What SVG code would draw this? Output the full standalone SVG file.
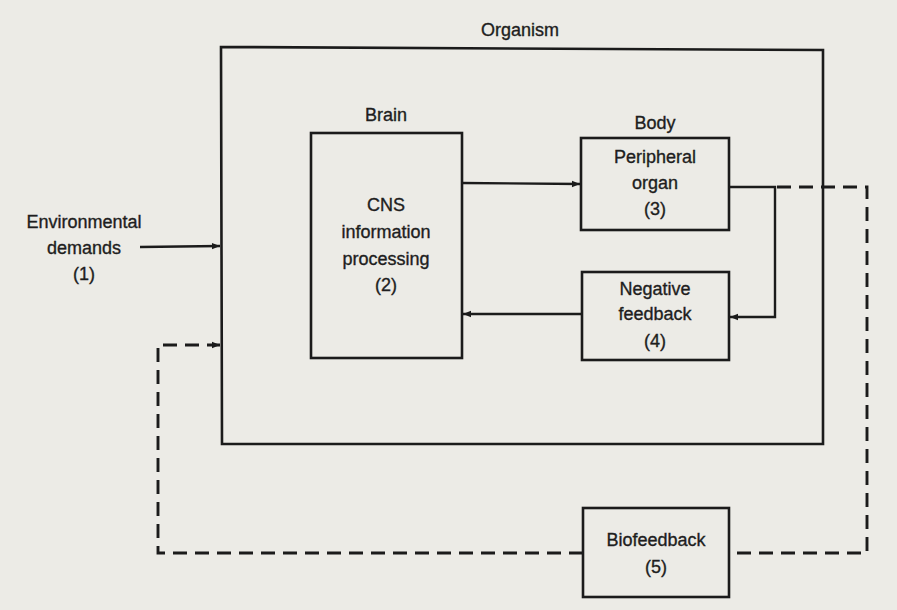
<svg xmlns="http://www.w3.org/2000/svg" width="897" height="610" viewBox="0 0 897 610">
  <defs>
    <marker id="arrow" viewBox="0 0 10 10" refX="10" refY="5" markerWidth="10" markerHeight="8" markerUnits="userSpaceOnUse" orient="auto">
      <path d="M0,1 L10,5 L0,9 Z" fill="#1b1b1b"/>
    </marker>
    <style>
      .box { fill: none; stroke: #1b1b1b; stroke-width: 2.6; }
      .link { fill: none; stroke: #1b1b1b; stroke-width: 2.4; }
      .dash { fill: none; stroke: #1b1b1b; stroke-width: 2.9; stroke-dasharray: 14 8; }
      text { font-family: "Liberation Sans", "DejaVu Sans", sans-serif; font-size: 18px; fill: #1e1e1e; stroke: #1e1e1e; stroke-width: 0.35; text-anchor: middle; }
    </style>
  </defs>

  <rect width="897" height="610" fill="#ecebe6"/>

  <!-- Organism container -->
  <g id="organism">
    <path class="box" d="M221,47 L823,50 L823,444 L222,444 Z"/>
    <text x="520" y="36">Organism</text>
  </g>

  <!-- Environmental demands (1) -->
  <g id="environment">
    <text x="84" y="228">Environmental</text>
    <text x="84" y="254">demands</text>
    <text x="84" y="280">(1)</text>
  </g>

  <!-- Brain: CNS information processing (2) -->
  <g id="brain">
    <text x="386" y="121">Brain</text>
    <rect class="box" x="311" y="133" width="151" height="225"/>
    <text x="386" y="211">CNS</text>
    <text x="386" y="238">information</text>
    <text x="386" y="265">processing</text>
    <text x="386" y="291">(2)</text>
  </g>

  <!-- Body: Peripheral organ (3) -->
  <g id="peripheral">
    <text x="655" y="129">Body</text>
    <rect class="box" x="581" y="138" width="148" height="92"/>
    <text x="655" y="163">Peripheral</text>
    <text x="655" y="189">organ</text>
    <text x="655" y="215">(3)</text>
  </g>

  <!-- Negative feedback (4) -->
  <g id="negative-feedback">
    <rect class="box" x="582" y="272" width="147" height="88"/>
    <text x="655" y="295">Negative</text>
    <text x="655" y="320">feedback</text>
    <text x="655" y="347">(4)</text>
  </g>

  <!-- Biofeedback (5) -->
  <g id="biofeedback">
    <rect class="box" x="583" y="508" width="146" height="89"/>
    <text x="656" y="546">Biofeedback</text>
    <text x="656" y="573">(5)</text>
  </g>

  <!-- Connectors -->
  <g id="connectors">
    <path class="link" d="M140,247 L220,246" marker-end="url(#arrow)"/>
    <path class="link" d="M462,183 L580,184" marker-end="url(#arrow)"/>
    <path class="link" d="M729,187 L775,187 L775,317 L730,317" marker-end="url(#arrow)"/>
    <path class="link" d="M582,314 L463,314" marker-end="url(#arrow)"/>
    <path class="dash" d="M777,187 L867,187 L867,553 L729,553"/>
    <path class="dash" d="M583,553 L158,553 L158,345 L220,345" marker-end="url(#arrow)"/>
  </g>
</svg>
